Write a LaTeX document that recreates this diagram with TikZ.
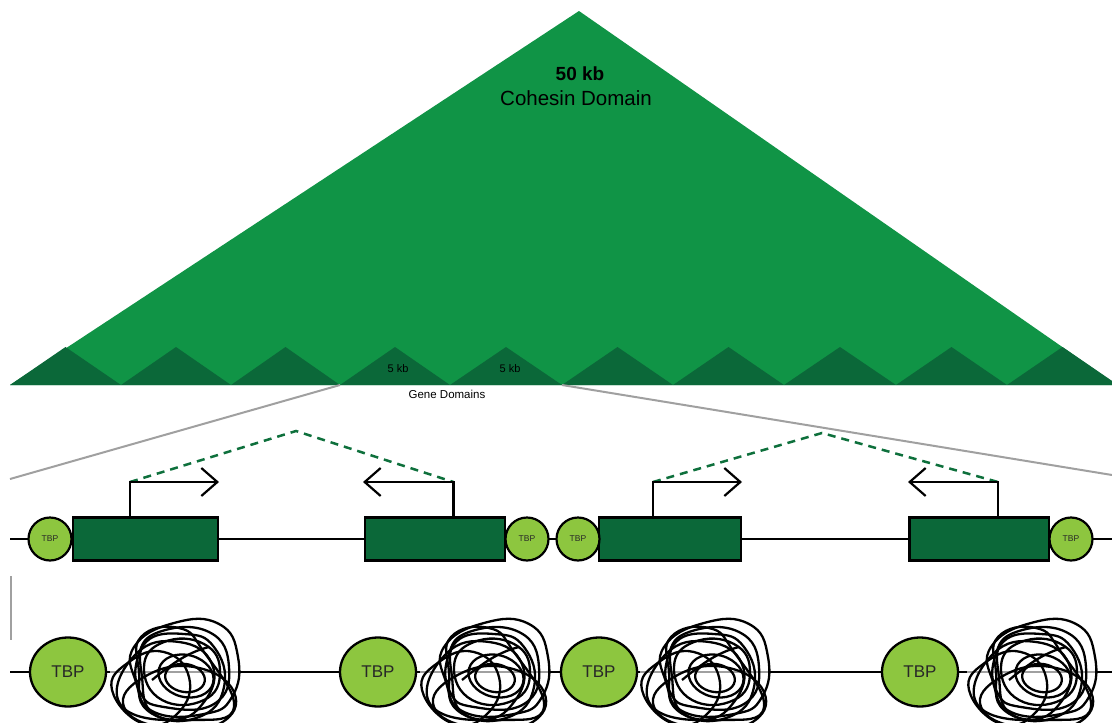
\documentclass[tikz,border=0pt]{standalone}
\usepackage{fontspec}
\setmainfont{Liberation Sans}
\usetikzlibrary{shapes.geometric,arrows.meta}

\definecolor{cohesingreen}{RGB}{16,148,70}
\definecolor{genegreen}{RGB}{11,104,57}
\definecolor{tbpgreen}{RGB}{141,198,63}
\definecolor{linegray}{RGB}{160,160,160}
\definecolor{dashgreen}{RGB}{14,112,60}
\definecolor{labelgray}{RGB}{40,40,40}

\tikzset{
  every node/.style={inner sep=0pt},
  zoomline/.style={draw=linegray, line width=2pt},
  strand/.style={line width=2.2pt},
  genebox/.style={rectangle, draw, line width=2.3pt, fill=genegreen, minimum height=43pt, minimum width=#1},
  tbpsmall/.style={circle, draw, line width=2.2pt, fill=tbpgreen, minimum size=43pt,
    font=\fontsize{8.5}{10}\selectfont, text=labelgray},
  tbpbig/.style={ellipse, draw, line width=2.3pt, fill=tbpgreen, minimum width=76pt, minimum height=69pt,
    font=\fontsize{17}{20}\selectfont, text=labelgray},
  tss/.style={line width=2.2pt, -{Straight Barb[length=16pt,width=28pt]}},
  dashlink/.style={draw=dashgreen, line width=2.5pt, dash pattern=on 8pt off 6pt},
  coilline/.style={line width=2.3pt, line join=round},
  % a tangle of chromatin fibre wound round a nucleosome core
  coil/.pic={
    \draw[coilline, rotate around={-10:(11,6)}] (11,6) ellipse [x radius=20, y radius=14];
    \draw[coilline, rotate around={-15:(12,4)}] (12,4) ellipse [x radius=28, y radius=21];
    \draw[coilline] plot[smooth cycle, tension=0.8] coordinates {(-30,-5) (-10,-30) (30,-28) (46,0) (30,28) (-12,28)};
    \draw[coilline] plot[smooth cycle, tension=0.8] coordinates {(-36,-15) (-15,-40) (35,-40) (55,-5) (40,32) (-10,35) (-34,20)};
    \draw[coilline] plot[smooth cycle, tension=0.8] coordinates {(-40,-25) (0,-49) (45,-48) (64,-15) (58,25) (30,42) (-20,40) (-38,10)};
    \draw[coilline] plot[smooth cycle, tension=0.8] coordinates {(-62,18) (-45,-10) (-10,-20) (15,5) (5,40) (-30,52)};
    \draw[coilline] plot[smooth cycle, tension=0.8] coordinates {(-50,35) (-30,5) (20,-5) (60,20) (45,52) (-10,56)};
    \draw[coilline] plot[smooth cycle, tension=0.8] coordinates {(-28,-30) (10,-38) (40,-25) (50,15) (25,45) (-20,42) (-32,5)};
    \draw[coilline] plot[smooth cycle, tension=0.8] coordinates {(-33,-35) (5,-44) (30,-20) (60,35) (20,48) (-27,38) (-35,0)};
    \draw[coilline] plot[smooth cycle, tension=0.8] coordinates {(-55,30) (-38,-18) (5,-30) (38,-8) (30,30) (-5,48)};
    \draw[coilline] (-22,8) .. controls (0,-10) and (15,-20) .. (35,-25);
    \coordinate (-w) at (-64,0);
    \coordinate (-e) at (64,0);
  }
}

\begin{document}
\begin{tikzpicture}[x=1pt,y=-1pt]
\useasboundingbox (0,0) rectangle (1112,723);
\clip (0,0) rectangle (1112,723);

% cohesin domain and the ten gene domains along its base
\fill[cohesingreen] (10,385) -- (579,11) -- (1117,385) -- cycle;
\foreach \a/\b in {10/121,121/231,231/340,340/450,450/562,562/673,673/784,784/896,896/1007,1007/1118}
  \fill[genegreen] (\a,385) -- ({(\a+\b)/2},347) -- (\b,385) -- cycle;

\node[font=\bfseries\fontsize{19}{22}\selectfont] (size) at (580,74) {50 kb};
\node[font=\fontsize{20.5}{24}\selectfont] (title) at (576,98) {Cohesin Domain};
\node[font=\fontsize{11}{13}\selectfont] (kb1) at (398,369) {5 kb};
\node[font=\fontsize{11}{13}\selectfont] (kb2) at (510,369) {5 kb};
\node[font=\fontsize{11.5}{13}\selectfont] (genes) at (447,394) {Gene Domains};

% magnification lines
\coordinate (zl0) at (340,385);
\coordinate (zl1) at (10,479);
\coordinate (zr0) at (562,385);
\coordinate (zr1) at (1112,475);
\draw[zoomline] (zl0) -- (zl1);
\draw[zoomline] (zr0) -- (zr1);
\draw[zoomline] (11,576) -- (11,640);

% gene row
\coordinate (s0) at (10,539);
\coordinate (s1) at (1112,539);
\draw[strand] (s0) -- (s1);
\node[genebox=145pt] (g1) at (145.5,539) {};
\node[genebox=140pt] (g2) at (435,539) {};
\node[genebox=142pt] (g3) at (670,539) {};
\node[genebox=139.5pt] (g4) at (979.25,539) {};
\node[tbpsmall] (t1) at (50,539) {TBP};
\node[tbpsmall] (t2) at (527,539) {TBP};
\node[tbpsmall] (t3) at (578,539) {TBP};
\node[tbpsmall] (t4) at (1071,539) {TBP};

% transcription start sites
\coordinate (p1) at (130,482);
\coordinate (p2) at (453.5,482);
\coordinate (p3) at (653,482);
\coordinate (p4) at (998,482);
\coordinate (h1) at (296,431);
\coordinate (h2) at (822,433);
\draw[dashlink] (p1) -- (h1) -- (p2);
\draw[dashlink] (p3) -- (h2) -- (p4);
\draw[tss] (p1 |- g1.north) -- (p1) -- (219,482);
\draw[tss] (p2 |- g2.north) -- (p2) -- (363,482);
\draw[tss] (p3 |- g3.north) -- (p3) -- (742,482);
\draw[tss] (p4 |- g4.north) -- (p4) -- (908,482);

% chromatin row
\coordinate (c0) at (10,672);
\coordinate (c9) at (1112,672);
\draw[draw=linegray, line width=1.5pt] (c0) -- (c9);
\pic (k1) at (174,672) {coil};
\pic (k2) at (484,672) {coil};
\pic (k3) at (704,672) {coil};
\pic (k4) at (1031,672) {coil};
\node[tbpbig] (b1) at (68,672) {TBP};
\node[tbpbig] (b2) at (378,672) {TBP};
\node[tbpbig] (b3) at (599,672) {TBP};
\node[tbpbig] (b4) at (920,672) {TBP};
\draw[strand] (c0) -- (b1.west);
\draw[strand] (b1.east) -- (k1-w);
\draw[strand] (k1-e) -- (b2.west);
\draw[strand] (b2.east) -- (k2-w);
\draw[strand] (k2-e) -- (b3.west);
\draw[strand] (b3.east) -- (k3-w);
\draw[strand] (k3-e) -- (b4.west);
\draw[strand] (b4.east) -- (k4-w);
\draw[strand] (k4-e) -- (c9);
\end{tikzpicture}
\end{document}
